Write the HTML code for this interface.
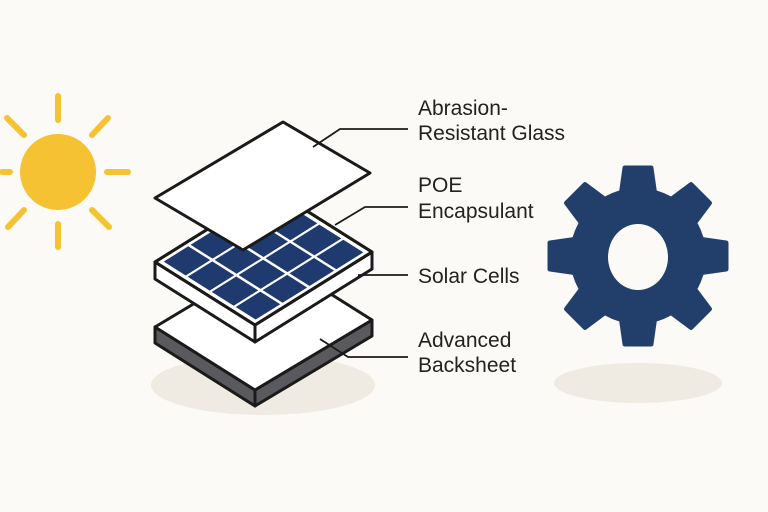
<!DOCTYPE html>
<html><head><meta charset="utf-8"><style>
html,body{margin:0;padding:0;background:#fbfaf6;}
svg{display:block}
text{font-family:"Liberation Sans",sans-serif;font-size:21px;fill:#222;}
</style></head><body>
<svg width="768" height="512" viewBox="0 0 768 512" xmlns="http://www.w3.org/2000/svg">
<rect width="768" height="512" fill="#fbfaf6"/>
<g stroke="#f4c232" stroke-width="6" stroke-linecap="round">
<line x1="58" y1="96" x2="58" y2="120"/>
<line x1="58" y1="224" x2="58" y2="247"/>
<line x1="2" y1="172" x2="10" y2="172"/>
<line x1="107" y1="172" x2="128" y2="172"/>
<line x1="7" y1="118" x2="24" y2="135"/>
<line x1="108" y1="118" x2="92" y2="135"/>
<line x1="24" y1="210" x2="8" y2="227"/>
<line x1="92" y1="210" x2="109" y2="227"/>
</g>
<circle cx="58" cy="172" r="38" fill="#f4c232"/>
<ellipse cx="263" cy="385" rx="112" ry="30" fill="#efebe2"/>
<ellipse cx="638" cy="383" rx="84" ry="20" fill="#efebe2"/>
<g stroke="#1a1a1a" stroke-width="3" stroke-linejoin="round">
<polygon points="155,327 255,390 255,406 155,343" fill="#5a5a5e"/>
<polygon points="255,390 372,320 372,336 255,406" fill="#5a5a5e"/>
<polygon points="155,327 272,257 372,320 255,390" fill="#fff"/>
<polygon points="155,262 255,325 255,342 155,279" fill="#fff"/>
<polygon points="255,325 372,252 372,269 255,342" fill="#fff"/>
<polygon points="155,262 272,189 372,252 255,325" fill="#fff"/>
</g>
<g transform="matrix(100,63,117,-73,155,262)">
<g fill="#1e3a6e">
<rect x="0.04" y="0.04" width="0.22" height="0.21"/><rect x="0.28" y="0.04" width="0.22" height="0.21"/><rect x="0.52" y="0.04" width="0.22" height="0.21"/><rect x="0.76" y="0.04" width="0.2" height="0.21"/>
<rect x="0.04" y="0.27" width="0.22" height="0.21"/><rect x="0.28" y="0.27" width="0.22" height="0.21"/><rect x="0.52" y="0.27" width="0.22" height="0.21"/><rect x="0.76" y="0.27" width="0.2" height="0.21"/>
<rect x="0.04" y="0.5" width="0.22" height="0.21"/><rect x="0.28" y="0.5" width="0.22" height="0.21"/><rect x="0.52" y="0.5" width="0.22" height="0.21"/><rect x="0.76" y="0.5" width="0.2" height="0.21"/>
<rect x="0.04" y="0.73" width="0.22" height="0.23"/><rect x="0.28" y="0.73" width="0.22" height="0.23"/><rect x="0.52" y="0.73" width="0.22" height="0.23"/><rect x="0.76" y="0.73" width="0.2" height="0.23"/>
</g>
</g>
<polygon points="155,262 272,189 372,252 255,325" fill="none" stroke="#1a1a1a" stroke-width="3" stroke-linejoin="round"/>
<polygon points="155,198 283,122 370,173 243,250" fill="#fff" stroke="#1a1a1a" stroke-width="3" stroke-linejoin="round"/>
<g stroke="#1a1a1a" stroke-width="1.8" fill="none">
<polyline points="313,147 340,129 408,129"/>
<polyline points="335,225 365,207 408,207"/>
<polyline points="358,275 408,275"/>
<polyline points="320,339 348,357 408,357"/>
</g>
<text x="418" y="115">Abrasion-</text>
<text x="418" y="140">Resistant Glass</text>
<text x="418" y="192">POE</text>
<text x="418" y="218">Encapsulant</text>
<text x="418" y="283">Solar Cells</text>
<text x="418" y="347">Advanced</text>
<text x="418" y="372">Backsheet</text>
<g transform="translate(638,256)" fill="#223f6b" stroke="#223f6b" stroke-width="5" stroke-linejoin="round">
<circle r="68" stroke="none"/>
<g id="t"><path d="M-17,-60 L-13,-88 L13,-88 L17,-60 Z"/></g>
<use href="#t" transform="rotate(45)"/><use href="#t" transform="rotate(90)"/><use href="#t" transform="rotate(135)"/>
<use href="#t" transform="rotate(180)"/><use href="#t" transform="rotate(225)"/><use href="#t" transform="rotate(270)"/><use href="#t" transform="rotate(315)"/>
<ellipse cx="0" cy="1" rx="30" ry="33" fill="#fbfaf6" stroke="none"/>
</g>
</svg>
</body></html>
